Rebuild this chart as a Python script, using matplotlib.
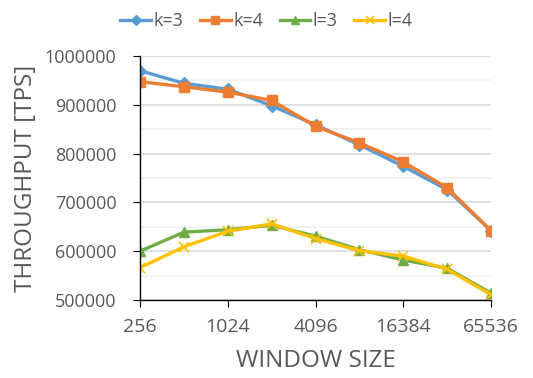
import matplotlib as mpl
mpl.use('Agg')
import matplotlib.pyplot as plt
from matplotlib.ticker import FixedLocator, NullFormatter

# window sizes (powers of two)
window = [256, 512, 1024, 2048, 4096, 8192, 16384, 32768, 65536]

k3 = [970000, 944000, 932000, 898000, 859000, 818000, 774000, 726000, 642000]
k4 = [947500, 937000, 926000, 909000, 856000, 822000, 783000, 730000, 642000]
l3 = [600000, 639000, 644000, 653000, 631000, 603000, 582000, 565000, 514000]
l4 = [566000, 609000, 641000, 656000, 626000, 601000, 590000, 563000, 511000]

xticks = [256, 1024, 4096, 16384, 65536]
yticks = [500000, 600000, 700000, 800000, 900000, 1000000]

txt = '#595959'
plt.rcParams['font.family'] = ['Open Sans', 'DejaVu Sans']

fig = plt.figure(figsize=(5.33, 3.78), dpi=100)
ax = fig.add_axes([140/533, 1 - 300/378, (491-140)/533, (300-56)/378])

ax.plot(window, k3, color='#5B9BD5', marker='D', markersize=6, lw=2.4, label='k=3')
ax.plot(window, k4, color='#ED7D31', marker='s', markersize=7.5, lw=2.4, label='k=4')
ax.plot(window, l3, color='#70AD47', marker='^', markersize=7.5, lw=2.4, label='l=3')
ax.plot(window, l4, color='#FFC000', marker='x', markersize=7.5, mew=1.2, lw=2.4, label='l=4')

ax.set_xscale('log', base=2)
ax.set_xlim(256, 65536)
ax.xaxis.set_major_locator(FixedLocator(xticks))
ax.xaxis.set_minor_locator(FixedLocator([]))
ax.xaxis.set_minor_formatter(NullFormatter())
ax.set_xticklabels([str(v) for v in xticks])

ax.set_ylim(500000, 1000000)
ax.set_yticks(yticks)
ax.set_yticklabels([str(v) for v in yticks])
ax.set_yticks([550000, 650000, 750000, 850000, 950000], minor=True)
ax.grid(axis='y', which='major', color='#D9D9D9', lw=1.2)
ax.grid(axis='y', which='minor', color='#F0F0F0', lw=1.2)
ax.set_axisbelow(True)

for s in ['top', 'right']:
    ax.spines[s].set_visible(False)
for s in ['left', 'bottom']:
    ax.spines[s].set_color('black')
    ax.spines[s].set_linewidth(1)

ax.tick_params(axis='x', which='major', length=5, color='black', labelsize=14,
               labelcolor=txt, pad=8)
ax.tick_params(axis='y', which='major', length=5, color='black', labelsize=13,
               labelcolor=txt, pad=12)
ax.tick_params(axis='y', which='minor', length=0)

ax.set_xlabel('WINDOW SIZE', fontsize=17.5, color=txt, labelpad=9)
ax.set_ylabel('THROUGHPUT [TPS]', fontsize=17.5, color=txt, labelpad=5)

leg = fig.legend(loc='upper center', bbox_to_anchor=(0.5, 1.01), ncol=4, frameon=False,
                 fontsize=13, handlelength=1.7, handletextpad=0.15, columnspacing=0.9,
                 markerscale=0.8)
for t in leg.get_texts():
    t.set_color(txt)

fig.savefig('out.png', dpi=100)
